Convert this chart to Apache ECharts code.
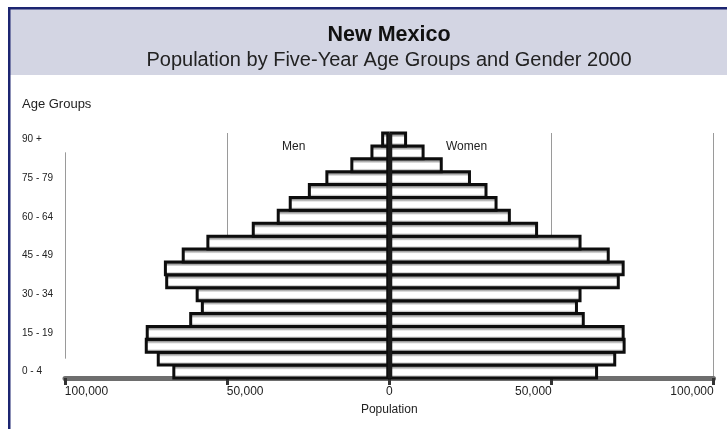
<!DOCTYPE html>
<html>
<head>
<meta charset="utf-8">
<script src="https://cdn.jsdelivr.net/npm/echarts@6/dist/echarts.min.js"></script>
<style>html,body{margin:0;padding:0;background:#fff;}#c{width:727px;height:429px;}</style>
</head>
<body>
<div id="c"></div>
<script>
var categories = ['0 - 4','5 - 9','10 - 14','15 - 19','20 - 24','25 - 29','30 - 34','35 - 39','40 - 44','45 - 49','50 - 54','55 - 59','60 - 64','65 - 69','70 - 74','75 - 79','80 - 84','85 - 89','90 +'];
var menValues = [66900, 71700, 75400, 75100, 61700, 58100, 59700, 69100, 69500, 64000, 56400, 42400, 34700, 31000, 25100, 19700, 12000, 5800, 2500];
var womenValues = [64400, 70000, 72900, 72600, 60300, 58200, 59300, 71100, 72600, 68000, 59300, 45900, 37500, 33400, 30300, 25200, 16500, 10900, 5500];
var xTicks = [-100000, -50000, 0, 50000, 100000];

var FONT = '"Liberation Sans", Arial, sans-serif';
var chart = echarts.init(document.getElementById('c'), null, {renderer: 'canvas'});

function fmt(v) { return Math.abs(v).toString().replace(/\B(?=(\d{3})+(?!\d))/g, ','); }

var barFill = {
  type: 'linear', x: 0, y: 0, x2: 0, y2: 1,
  colorStops: [
    {offset: 0, color: '#8a8a8a'}, {offset: 0.2, color: '#8a8a8a'}, {offset: 0.3, color: '#c4c4c4'},
    {offset: 0.38, color: '#ffffff'}, {offset: 0.7, color: '#ffffff'}, {offset: 0.78, color: '#c8c8c8'},
    {offset: 1, color: '#b0b0b0'}
  ]
};

var option = {
  animation: false,
  backgroundColor: '#ffffff',
  graphic: [
    {type: 'rect', shape: {x: 10, y: 9, width: 717, height: 66}, style: {fill: '#d3d5e3'}, z: 0},
    {type: 'rect', shape: {x: 8, y: 7, width: 719, height: 2.5}, style: {fill: '#1c2571'}, z: 1},
    {type: 'rect', shape: {x: 8, y: 7, width: 2.5, height: 422}, style: {fill: '#1c2571'}, z: 1},
    {type: 'text', left: 22, top: 98, style: {text: 'Age Groups', font: '13px ' + FONT, fill: '#222'}},
    {type: 'text', left: 282, top: 141, style: {text: 'Men', font: '12px ' + FONT, fill: '#222'}},
    {type: 'text', left: 446, top: 141, style: {text: 'Women', font: '12px ' + FONT, fill: '#222'}}
  ],
  title: [
    {text: 'New Mexico', left: 384, top: 19, textAlign: 'center',
     textStyle: {fontFamily: FONT, fontSize: 21.5, fontWeight: 'bold', color: '#111'}},
    {text: 'Population by Five-Year Age Groups and Gender 2000', left: 384, top: 45, textAlign: 'center',
     textStyle: {fontFamily: FONT, fontSize: 20, fontWeight: 'normal', color: '#222'}}
  ],
  grid: {left: 65, right: 13.5, top: 133, bottom: 51, containLabel: false},
  xAxis: {
    type: 'value',
    min: xTicks[0], max: xTicks[xTicks.length - 1], interval: 50000,
    name: 'Population', nameLocation: 'middle', nameGap: 26,
    nameTextStyle: {fontFamily: FONT, fontSize: 12, color: '#222'},
    axisLine: {show: true, lineStyle: {color: '#6e6e6e', width: 5}},
    axisTick: {show: true, length: 7, lineStyle: {color: '#333', width: 3}},
    splitLine: {show: true, lineStyle: {color: ['rgba(0,0,0,0)', '#9a9a9a', '#9a9a9a', '#9a9a9a', '#9a9a9a'], width: 1}},
    axisLabel: {
      margin: 8, fontFamily: FONT, fontSize: 12, color: '#222',
      formatter: function (v) {
        var t = fmt(v);
        if (v < 0) return '{' + (t.length > 6 ? 'l7' : 'l6') + '|' + t + '}';
        if (v > 0) return '{' + (t.length > 6 ? 'r7' : 'r6') + '|' + t + '}';
        return t;
      },
      rich: {
        l7: {padding: [0, 0, 0, 43], fontFamily: FONT, fontSize: 12, color: '#222'},
        l6: {padding: [0, 0, 0, 36], fontFamily: FONT, fontSize: 12, color: '#222'},
        r7: {padding: [0, 43, 0, 0], fontFamily: FONT, fontSize: 12, color: '#222'},
        r6: {padding: [0, 36, 0, 0], fontFamily: FONT, fontSize: 12, color: '#222'}
      }
    }
  },
  yAxis: {
    type: 'category',
    data: categories,
    axisLine: {show: false},
    axisTick: {show: false},
    splitLine: {show: false},
    axisLabel: {interval: 2, margin: 43, align: 'left', fontFamily: FONT, fontSize: 10, color: '#222'}
  },
  series: [
    {
      name: 'Men', type: 'bar', barWidth: 15.9, barGap: '-100%',
      data: menValues.map(function (v) { return -v; }),
      itemStyle: {color: barFill, borderColor: '#0d0d0d', borderWidth: 3},
      markLine: {
        silent: true, symbol: 'none', label: {show: false},
        lineStyle: {color: '#9a9a9a', width: 1, type: 'solid'},
        data: [[{coord: [xTicks[0], categories[17]]}, {coord: [xTicks[0], categories[1]]}]]
      }
    },
    {
      name: 'Women', type: 'bar', barWidth: 15.9, barGap: '-100%',
      data: womenValues,
      itemStyle: {color: barFill, borderColor: '#0d0d0d', borderWidth: 3},
      markLine: {
        silent: true, symbol: 'none', label: {show: false},
        lineStyle: {color: '#1a1a1a', width: 4, type: 'solid'},
        data: [{xAxis: 0}]
      }
    }
  ]
};
chart.setOption(option);
</script>
</body>
</html>
